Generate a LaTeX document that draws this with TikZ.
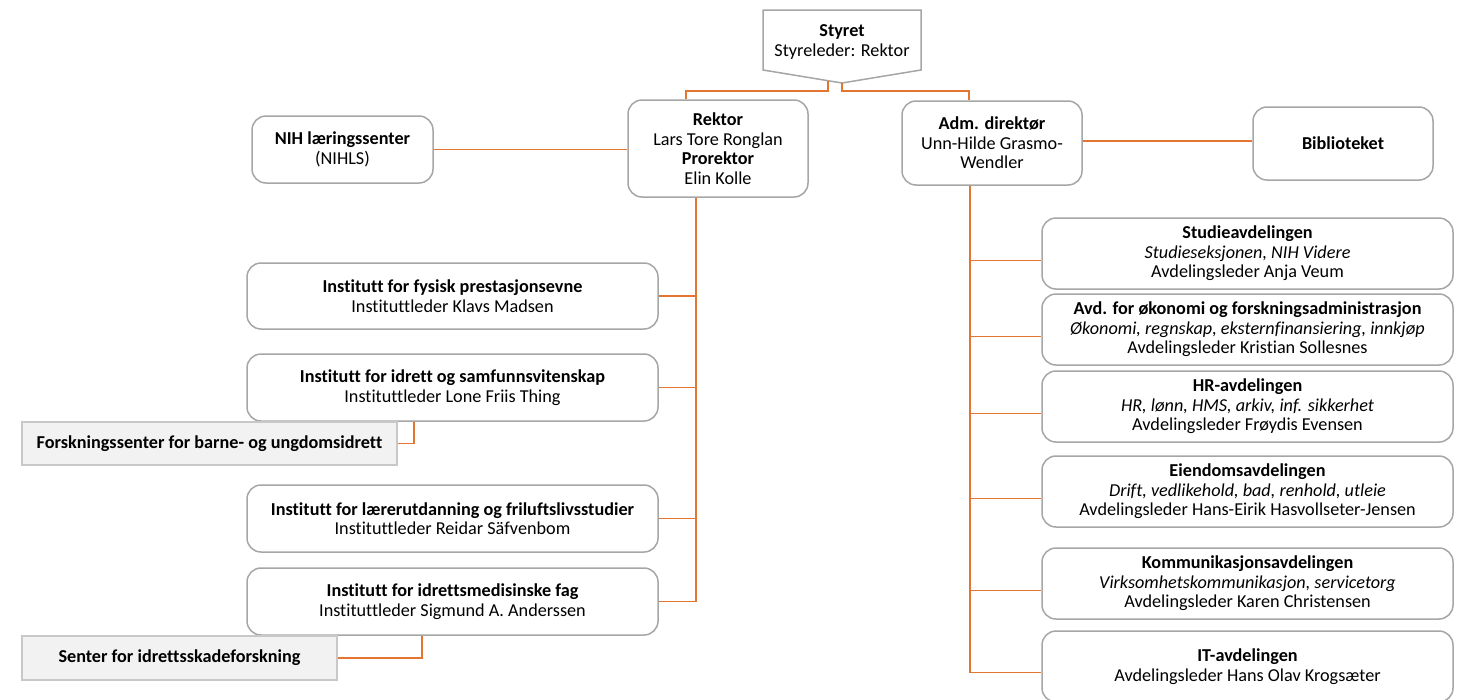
\documentclass[tikz,border=0pt]{standalone}
\usepackage{fontspec}
\setmainfont{Carlito}[Ligatures=NoCommon]
\usetikzlibrary{calc}
\definecolor{conn}{RGB}{226,117,48}
\definecolor{boxline}{RGB}{166,166,166}
\definecolor{grayfill}{RGB}{242,242,242}
\definecolor{grayline}{RGB}{200,200,200}
\tikzset{
  connline/.style={draw=conn, line width=1.8pt},
  rbox/.style={draw=boxline, line width=1.5pt, fill=white, rounded corners=14pt, align=center, inner sep=0pt, font=\fontsize{18.2}{19.6}\selectfont},
  gbox/.style={draw=grayline, line width=1.3pt, fill=grayfill, align=center, inner sep=0pt, font=\fontsize{18.2}{19.6}\selectfont\bfseries},
  txt/.style={align=center, inner sep=0pt, font=\fontsize{18.2}{19.6}\selectfont},
}
\begin{document}
\begin{tikzpicture}[x=1pt,y=-1pt]
\useasboundingbox (0,0) rectangle (1466,699);
\clip (0,0) rectangle (1466,699);
% Styret pentagon
\draw[boxline, line width=1.5pt, fill=white] (763,10) -- (921,10) -- (921,70) -- (842,83) -- (763,70) -- cycle;
\node[txt] (styret) at (842,42) {\textbf{Styret}\\Styreleder: Rektor};
\coordinate (tipA) at (828,81);
\coordinate (tipB) at (842,83);

% Top level
\node[rbox, minimum width=180pt, minimum height=97pt] (rektor) at (718,148.5) {\textbf{Rektor}\\Lars Tore Ronglan\\\textbf{Prorektor}\\Elin Kolle};
\node[rbox, minimum width=180pt, minimum height=84pt] (adm) at (992,143) {\textbf{Adm. direktør}\\Unn-Hilde Grasmo-\\Wendler};
\node[rbox, minimum width=181pt, minimum height=67pt] (nihls) at (342.5,149.5) {\textbf{NIH læringssenter}\\(NIHLS)};
\node[rbox, minimum width=180pt, minimum height=73pt] (bib) at (1343,143.5) {\textbf{Biblioteket}};

% Institutes
\node[rbox, minimum width=411pt, minimum height=66pt] (inst1) at (452.5,296) {\textbf{Institutt for fysisk prestasjonsevne}\\Instituttleder Klavs Madsen};
\node[rbox, minimum width=411pt, minimum height=67pt] (inst2) at (452.5,387.5) {\textbf{Institutt for idrett og samfunnsvitenskap}\\Instituttleder Lone Friis Thing};
\node[rbox, minimum width=411pt, minimum height=67pt] (inst3) at (452.5,518.5) {\textbf{Institutt for lærerutdanning og friluftslivsstudier}\\Instituttleder Reidar Säfvenbom};
\node[rbox, minimum width=411pt, minimum height=67pt] (inst4) at (452.5,601.5) {\textbf{Institutt for idrettsmedisinske fag}\\Instituttleder Sigmund A. Anderssen};

% Gray centres
\node[gbox, minimum width=375pt, minimum height=43pt] (fsbu) at (209.5,443.5) {Forskningssenter for barne- og ungdomsidrett};
\node[gbox, minimum width=315pt, minimum height=44pt] (sif) at (179.5,658) {Senter for idrettsskadeforskning};

% Departments
\node[rbox, minimum width=411pt, minimum height=71pt] (studie) at (1247.5,253.5) {\textbf{Studieavdelingen}\\\textit{Studieseksjonen, NIH Videre}\\Avdelingsleder Anja Veum};
\node[rbox, minimum width=411pt, minimum height=71pt] (okonomi) at (1247.5,329.5) {\textbf{Avd. for økonomi og forskningsadministrasjon}\\\textit{Økonomi, regnskap, eksternfinansiering, innkjøp}\\Avdelingsleder Kristian Sollesnes};
\node[rbox, minimum width=411pt, minimum height=71pt] (hr) at (1247.5,406.5) {\textbf{HR-avdelingen}\\\textit{HR, lønn, HMS, arkiv, inf. sikkerhet}\\Avdelingsleder Frøydis Evensen};
\node[rbox, minimum width=411pt, minimum height=71pt] (eiendom) at (1247.5,491.5) {\textbf{Eiendomsavdelingen}\\\textit{Drift, vedlikehold, bad, renhold, utleie}\\Avdelingsleder Hans-Eirik Hasvollseter-Jensen};
\node[rbox, minimum width=411pt, minimum height=71pt] (komm) at (1247.5,583.5) {\textbf{Kommunikasjonsavdelingen}\\\textit{Virksomhetskommunikasjon, servicetorg}\\Avdelingsleder Karen Christensen};
\node[rbox, minimum width=411pt, minimum height=71pt] (it) at (1247.5,666.5) {\textbf{IT-avdelingen}\\Avdelingsleder Hans Olav Krogsæter};

% Connectors
\draw[connline] (tipA) -- (828,91) -| ([xshift=-32pt]rektor.north);
\draw[connline] (tipB) -- (842,91) -| ([xshift=-23pt]adm.north);
\draw[connline] (nihls.east) -- (nihls.east -| rektor.west);
\draw[connline] ([yshift=2pt]adm.east) -- ([yshift=2pt]adm.east -| bib.west);

\draw[connline] ([xshift=-22pt]rektor.south) |- (inst1.east);
\draw[connline] ([xshift=-22pt]rektor.south) |- (inst2.east);
\draw[connline] ([xshift=-22pt]rektor.south) |- (inst3.east);
\draw[connline] ([xshift=-22pt]rektor.south) |- (inst4.east);

\draw[connline] (fsbu.east) -| ([xshift=-38.5pt]inst2.south);
\draw[connline] (sif.east) -| ([xshift=-30.5pt]inst4.south);

\draw[connline] ([xshift=-22pt]adm.south) |- ([yshift=-7pt]studie.west);
\draw[connline] ([xshift=-22pt]adm.south) |- ([yshift=-7pt]okonomi.west);
\draw[connline] ([xshift=-22pt]adm.south) |- ([yshift=-7pt]hr.west);
\draw[connline] ([xshift=-22pt]adm.south) |- ([yshift=-7pt]eiendom.west);
\draw[connline] ([xshift=-22pt]adm.south) |- ([yshift=-7pt]komm.west);
\draw[connline] ([xshift=-22pt]adm.south) |- ([yshift=-6pt]it.west);
\end{tikzpicture}
\end{document}
